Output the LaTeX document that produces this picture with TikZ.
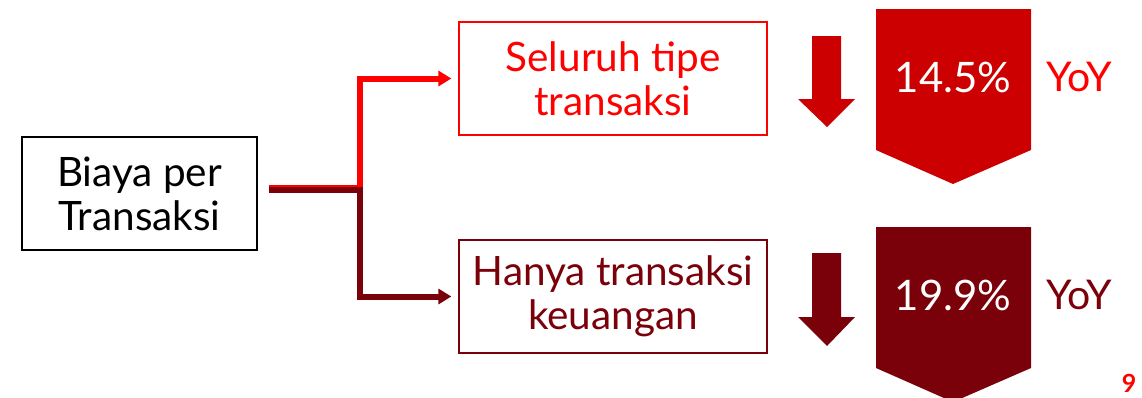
\documentclass[tikz,border=0pt]{standalone}
\usepackage{fontspec}
\setmainfont{Lato}
\usetikzlibrary{arrows.meta}
\definecolor{brightred}{HTML}{FF0000}
\definecolor{fillred}{HTML}{CC0000}
\definecolor{darkred}{HTML}{7A000A}
\begin{document}
\begin{tikzpicture}[x=1pt,y=-1pt,
  box/.style={draw, line width=1.3pt, minimum width=308pt, minimum height=113pt, align=center, inner sep=0pt, font=\fontsize{40.5}{44}\selectfont},
  conn/.style={line width=6pt, -{Triangle[length=13pt,width=15pt]}},
  pct/.style={text=white, font=\fontsize{42}{42}\selectfont, inner sep=0pt},
  yoy/.style={font=\fontsize{41}{41}\selectfont, inner sep=0pt}]
\clip (0,0) rectangle (1142,397);
\path[use as bounding box] (0,0) rectangle (1142,397);
% boxes
\node[box, draw=black, line width=1.2pt, text=black, minimum width=235pt] (src) at (139.5,193.5) {Biaya per\\Transaksi};
\node[box, draw=brightred, text=brightred] (all) at (613,78.5) {Seluruh tipe\\transaksi};
\node[box, draw=darkred, text=darkred] (fin) at (613,296.5) {Hanya transaksi\\keuangan};
% connectors
\coordinate (jr) at (360,187.5);
\coordinate (sr) at (269,187.5);
\coordinate (jd) at (360,189.5);
\coordinate (sd) at (269,189.5);
\draw[conn, brightred, shorten >=7pt] (sr) -- (jr) |- (all.west);
\draw[conn, darkred, shorten >=7pt] (sd) -- (jd) |- (fin.west);
% small arrows
\fill[fillred] (812,36) -- (841,36) -- (841,99) -- (855,99) -- (827,127) -- (798,99) -- (812,99) -- cycle;
\fill[darkred] (812,253) -- (841,253) -- (841,317) -- (855,317) -- (827,346) -- (798,317) -- (812,317) -- cycle;
% pentagons
\fill[fillred] (876,9) -- (1031,9) -- (1031,150) -- (953,184) -- (876,150) -- cycle;
\fill[darkred] (876,227) -- (1031,227) -- (1031,368) -- (953,402) -- (876,368) -- cycle;
\node[pct] (p1) at (953,77) {14.5\%};
\node[pct] (p2) at (953,295) {19.9\%};
\node[yoy, text=brightred] (y1) at (1079,77) {YoY};
\node[yoy, text=darkred] (y2) at (1079,295) {YoY};
% page number
\node[text=brightred, font=\bfseries\fontsize{25}{25}\selectfont, inner sep=0pt] (pg) at (1129,383.5) {9};
\end{tikzpicture}
\end{document}
